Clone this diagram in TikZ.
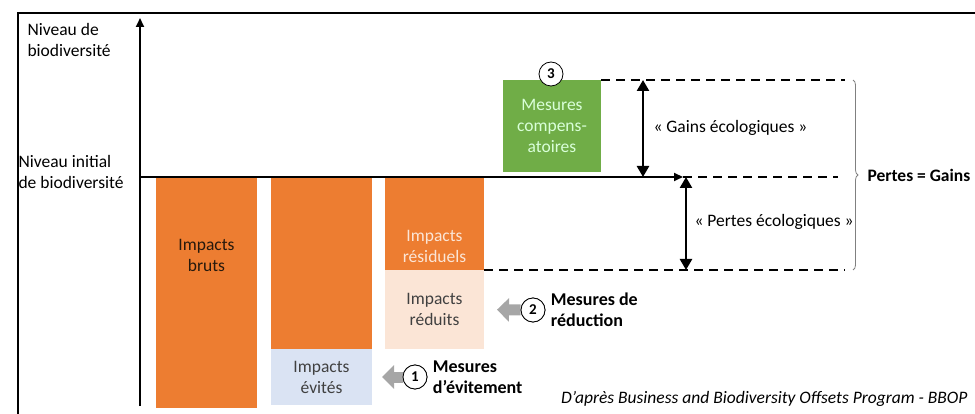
\documentclass[tikz,border=0pt]{standalone}
\usepackage{fontspec}
\setmainfont{Carlito}
\usetikzlibrary{positioning,arrows.meta,decorations.pathreplacing}
\definecolor{impact}{HTML}{ED7D31}
\definecolor{comp}{HTML}{70AD47}
\definecolor{reduit}{HTML}{FBE5D6}
\definecolor{evite}{HTML}{DAE3F3}
\definecolor{fleche}{HTML}{A6A6A6}
\definecolor{encre}{HTML}{404040}
\tikzset{%
  bar/.style     = {rectangle, anchor=north west, inner sep=0pt, outer sep=0pt,%
                    align=center, font=\fontsize{17.5}{21}\selectfont},%
  lbl/.style     = {align=center, font=\fontsize{17.5}{21}\selectfont},%
  num/.style     = {circle, draw, thick, fill=white, inner sep=0pt,%
                    minimum size=24pt, font=\bfseries\fontsize{15}{15}\selectfont},%
  mesure/.style  = {align=left, anchor=west, font=\bfseries\fontsize{18}{21}\selectfont},%
  niveau/.style  = {line width=2pt, dash pattern=on 9pt off 6pt},%
  ecart/.style   = {line width=2.5pt, {Triangle[width=12pt,length=11pt]}-{Triangle[width=12pt,length=11pt]}},%
  grosse/.style  = {draw=fleche, line width=11pt, -{Triangle[width=23pt,length=12pt]}},%
  accolade/.style= {draw=gray, thick, decorate, decoration={brace, amplitude=5pt}}%
}
\begin{document}
\begin{tikzpicture}[x=1pt, y=-1pt]
  \useasboundingbox (0,0) rectangle (975,414);
  \draw[line width=1.5pt] (18,414) -- (18,13) -- (975,13);
  % axes
  \coordinate (pied) at (140,406);
  \coordinate (sommet) at (140,18);
  \coordinate (origine) at (140,177);
  \coordinate (fin) at (683,177);
  \draw[line width=2.2pt, -{Triangle[width=8pt,length=9pt]}] (pied) -- (sommet);
  \node[lbl, align=left, anchor=west] (niveau) at (24,40) {Niveau de\\biodiversité};
  \node[lbl, align=left, anchor=west] (initial) at (15,172) {Niveau initial\\de biodiversité};
  % barres
  \node[bar, fill=impact, minimum width=101pt, minimum height=230pt] (bruts) at (156,178) {};
  \node[lbl, text=black!80!brown, below=58pt of bruts.north] (tbruts) {Impacts\\bruts};
  \node[bar, fill=impact, minimum width=101pt, minimum height=171pt] (reste) at (271,178) {};
  \node[bar, fill=evite, text=encre, minimum width=101pt, minimum height=56pt] (evites) at (271,349) {Impacts\\évités};
  \node[bar, fill=impact, minimum width=99pt, minimum height=92pt] (residuels) at (385,178) {};
  \node[lbl, text=reduit, above=4pt of residuels.south] (tresiduels) {Impacts\\résiduels};
  \node[bar, fill=reduit, text=encre, minimum width=99pt, minimum height=79pt] (reduits) at (385,270) {Impacts\\réduits};
  \node[bar, fill=comp, text=green!15, minimum width=98pt, minimum height=92pt] (compens) at (503,80) {Mesures\\compens-\\atoires};
  % niveaux
  \draw[line width=2.2pt, -{Triangle[width=8pt,length=9pt]}] (origine) -- (fin);
  \coordinate (hg) at (845,80);
  \coordinate (mg) at (838,177);
  \coordinate (bg) at (845,270);
  \draw[niveau] (compens.north east) -- (hg);
  \draw[niveau] (fin) -- (mg);
  \draw[niveau] (residuels.south east) -- (bg);
  \coordinate (g1) at (643,80);
  \coordinate (g2) at (643,177);
  \coordinate (p1) at (686,177);
  \coordinate (p2) at (686,270);
  \draw[ecart] (g1) -- (g2);
  \draw[ecart] (p1) -- (p2);
  \node[lbl, anchor=west] (gains) at (650,128) {« Gains écologiques »};
  \node[lbl, anchor=west] (pertes) at (691,222) {« Pertes écologiques »};
  \coordinate (b1) at (853,80);
  \coordinate (b2) at (853,270);
  \draw[accolade] (b1) -- (b2);
  \node[mesure, anchor=west, font=\bfseries\fontsize{17.5}{21}\selectfont] (egal) at (864,175) {Pertes = Gains};
  % mesures
  \node[num] (c3) at (551,74) {3};
  \node[num] (c2) at (533,310) {2};
  \node[num] (c1) at (415,377) {1};
  \draw[grosse, shorten >=13pt] (c2.west) -- (reduits.east);
  \draw[grosse, shorten >=10pt] (c1.west) -- (evites.east);
  \node[num] at (c2) {2};
  \node[num] at (c1) {1};
  \node[mesure, xshift=2pt] (reduction) at (c2.east) {Mesures de\\réduction};
  \node[mesure, xshift=2pt] (evitement) at (c1.east) {Mesures\\d’évitement};
  \node[anchor=east, font=\itshape\fontsize{17.5}{20}\selectfont] (source) at (971,399)
    {D’après Business and Biodiversity Offsets Program - BBOP};
\end{tikzpicture}
\end{document}
